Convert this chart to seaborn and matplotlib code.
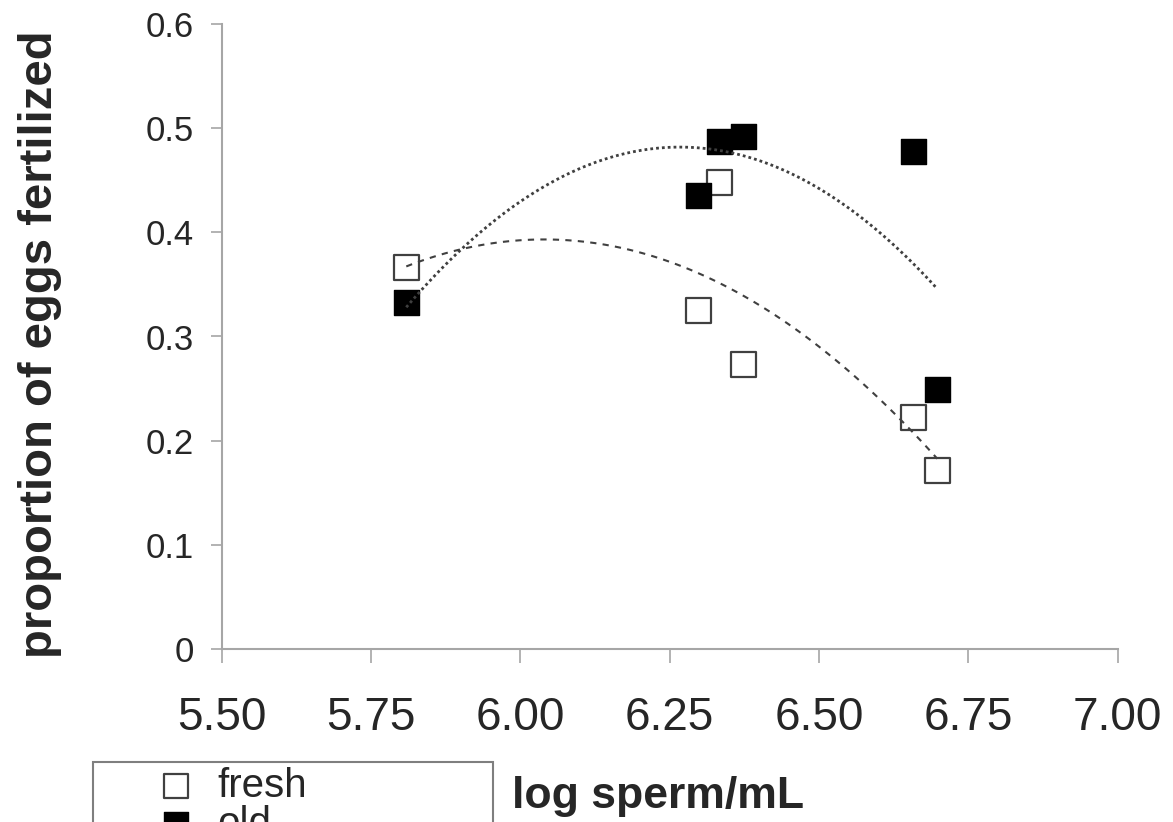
import seaborn as sns
import pandas as pd
import matplotlib.pyplot as plt
from matplotlib.patches import Rectangle

log_sperm = [5.809, 6.297, 6.333, 6.373, 6.658, 6.698]
fresh = [0.367, 0.325, 0.448, 0.274, 0.223, 0.172]
old = [0.333, 0.436, 0.488, 0.492, 0.478, 0.250]

x_ticks = [5.50, 5.75, 6.00, 6.25, 6.50, 6.75, 7.00]
x_tick_labels = ['5.50', '5.75', '6.00', '6.25', '6.50', '6.75', '7.00']
y_ticks = [0, 0.1, 0.2, 0.3, 0.4, 0.5, 0.6]
y_tick_labels = ['0', '0.1', '0.2', '0.3', '0.4', '0.5', '0.6']

df = pd.DataFrame({'log_sperm': log_sperm, 'fresh': fresh, 'old': old})

sns.set_style('ticks')
plt.rcParams['font.family'] = ['Liberation Sans', 'DejaVu Sans']

fig = plt.figure(figsize=(11.73, 8.22), dpi=100)
ax = fig.add_axes([221.7 / 1173, 1 - 649 / 822, 896 / 1173, 625 / 822])

sns.scatterplot(data=df, x='log_sperm', y='fresh', marker='s', s=324,
                color='white', edgecolor='#404040', linewidth=1.6,
                label='fresh', ax=ax, zorder=3)
sns.scatterplot(data=df, x='log_sperm', y='old', marker='s', s=324,
                color='black', edgecolor='black', linewidth=1.0,
                label='old', ax=ax, zorder=3)

# 2nd order polynomial trendlines
sns.regplot(data=df, x='log_sperm', y='fresh', order=2, ci=None, scatter=False, ax=ax,
            line_kws=dict(color='#404040', lw=1.5, ls=(0, (3, 3)), zorder=4))
sns.regplot(data=df, x='log_sperm', y='old', order=2, ci=None, scatter=False, ax=ax,
            line_kws=dict(color='#404040', lw=2.0, ls=(0, (1, 1.1)), zorder=4))

ax.set_xlim(5.5, 7.0)
ax.set_ylim(0, 0.6)
ax.set_xticks(x_ticks)
ax.set_xticklabels(x_tick_labels)
ax.set_yticks(y_ticks)
ax.set_yticklabels(y_tick_labels)

sns.despine(ax=ax)
for side in ['left', 'bottom']:
    ax.spines[side].set_color('#a6a6a6')
    ax.spines[side].set_linewidth(1.5)
ax.tick_params(axis='x', length=10, width=1.2, color='#a6a6a6', labelsize=33, pad=24)
ax.tick_params(axis='y', length=8, width=1.2, color='#a6a6a6', labelsize=25, pad=12)

ax.set_xlabel('log sperm/mL', fontsize=32, fontweight='bold', ha='left', va='baseline')
ax.xaxis.set_label_coords(0.324, -0.2544)
ax.set_ylabel('proportion of eggs fertilized', fontsize=34, fontweight='bold', va='center')
ax.yaxis.set_label_coords(-0.203, 0.488)

leg = ax.legend(loc='upper left', bbox_to_anchor=(155.7 / 1173, 1 - 767 / 822),
                bbox_transform=fig.transFigure, frameon=False, fontsize=29,
                borderpad=0, borderaxespad=0, handlelength=1.0, handletextpad=0.54,
                labelspacing=0.0, markerscale=0.92)

fig.patches.append(Rectangle((93 / 1173, -0.1), 400 / 1173, 0.1 + 1 - 762 / 822,
                             transform=fig.transFigure, fill=False,
                             edgecolor='#7f7f7f', lw=1.5))

fig.savefig('out.png', dpi=100)
